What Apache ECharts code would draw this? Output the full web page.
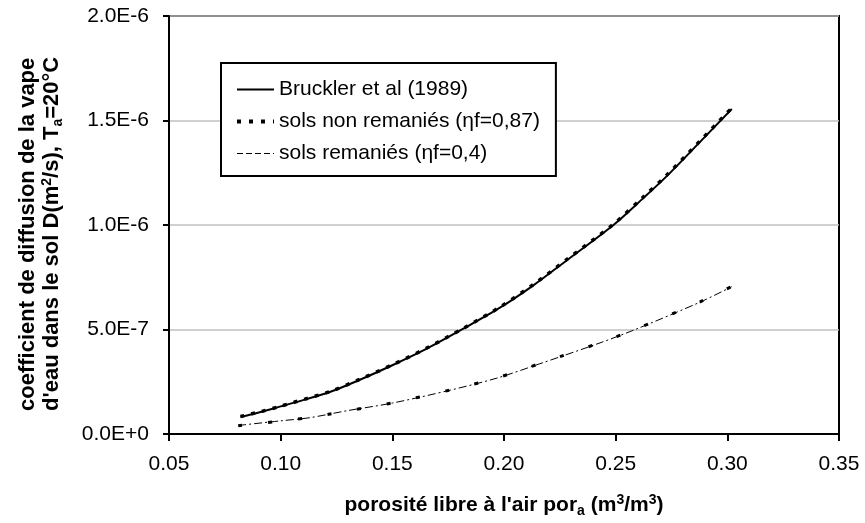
<!DOCTYPE html>
<html>
<head>
<meta charset="utf-8">
<script src="https://cdn.jsdelivr.net/npm/echarts@6/dist/echarts.min.js"></script>
<style>
  html, body { margin: 0; padding: 0; background: #fff; }
  #chart { width: 865px; height: 523px; }
</style>
</head>
<body>
<div id="chart"></div>
<script>
// porosité libre à l'air (m3/m3) et coefficient de diffusion D (m2/s)
var xBruckler = [0.082, 0.091, 0.100, 0.106, 0.122, 0.136, 0.150, 0.165, 0.182, 0.198, 0.213, 0.228, 0.249, 0.262, 0.273, 0.288, 0.302]
var yBruckler = [8.1e-8, 1.05e-7, 1.32e-7, 1.50e-7, 2.01e-7, 2.62e-7, 3.29e-7, 4.06e-7, 5.05e-7, 6.03e-7, 7.10e-7, 8.30e-7, 1.00e-6, 1.125e-6, 1.235e-6, 1.40e-6, 1.555e-6]

var xNonRemanies = [0.082, 0.091, 0.100, 0.106, 0.122, 0.136, 0.150, 0.165, 0.182, 0.198, 0.213, 0.228, 0.249, 0.262, 0.273, 0.288, 0.302]
var yNonRemanies = [8.4e-8, 1.07e-7, 1.33e-7, 1.52e-7, 2.03e-7, 2.64e-7, 3.31e-7, 4.09e-7, 5.07e-7, 6.06e-7, 7.14e-7, 8.34e-7, 1.004e-6, 1.13e-6, 1.24e-6, 1.405e-6, 1.56e-6]

var xRemanies = [0.081, 0.100, 0.113, 0.130, 0.150, 0.176, 0.197, 0.216, 0.243, 0.259, 0.288, 0.302]
var yRemanies = [4.1e-8, 6.3e-8, 7.8e-8, 1.12e-7, 1.48e-7, 2.10e-7, 2.68e-7, 3.36e-7, 4.36e-7, 5.01e-7, 6.32e-7, 7.05e-7]

var xRemanies2 = [0.081, 0.100, 0.113, 0.130, 0.150, 0.176, 0.197, 0.216, 0.243, 0.259, 0.288, 0.302]
var yRemanies2 = [4.0e-8, 6.2e-8, 7.9e-8, 1.11e-7, 1.49e-7, 2.11e-7, 2.69e-7, 3.37e-7, 4.37e-7, 5.02e-7, 6.33e-7, 7.06e-7]

var xTicks = { min: 0.05, max: 0.35, step: 0.05 }
var yTicks = { min: 0, max: 2e-6, step: 5e-7 }

var seriesNames = ['Bruckler et al (1989)', 'sols non remaniés (ηf=0,87)', 'sols remaniés (ηf=0,4)', 'sols remaniés bis']

function pairs (xs, ys) {
  return xs.map(function (x, i) { return [x, ys[i]] })
}

var FONT = '"Liberation Sans", Arial, sans-serif'

var chart = echarts.init(document.getElementById('chart'), null, { renderer: 'canvas' })

var option = {
  backgroundColor: '#fff',
  animation: false,
  grid: {
    left: 169,
    right: 26,
    top: 16,
    bottom: 89,
    show: true,
    borderColor: '#000',
    borderWidth: 2,
    backgroundColor: '#fff'
  },
  legend: {
    data: [
      { name: seriesNames[0], lineStyle: { width: 2 } },
      { name: seriesNames[1], lineStyle: { width: 4, type: [4, 8] } },
      { name: seriesNames[2], lineStyle: { width: 1, type: [6, 3] } }
    ],
    orient: 'vertical',
    left: 221,
    top: 63,
    itemWidth: 37,
    itemHeight: 14,
    itemGap: 11,
    padding: [16, 16, 12, 14],
    borderColor: '#000',
    borderWidth: 2,
    backgroundColor: '#fff',
    itemStyle: { opacity: 0 },
    textStyle: { fontFamily: FONT, fontSize: 21, color: '#000' }
  },
  xAxis: {
    type: 'value',
    min: xTicks.min,
    max: xTicks.max,
    interval: xTicks.step,
    name: '{b|porosité libre à l\'air por}{sub|a}{b| (m}{sup|3}{b|/m}{sup|3}{b|)}',
    nameLocation: 'middle',
    nameGap: 58,
    nameTextStyle: {
      rich: {
        b: { fontFamily: FONT, fontSize: 21, fontWeight: 'bold', color: '#000' },
        sub: { fontFamily: FONT, fontSize: 14, fontWeight: 'bold', color: '#000', padding: [12, 0, 0, 0] },
        sup: { fontFamily: FONT, fontSize: 14, fontWeight: 'bold', color: '#000', padding: [0, 0, 10, 0] }
      }
    },
    axisLine: { lineStyle: { color: '#000', width: 2 } },
    axisTick: { inside: false, length: 7, lineStyle: { color: '#000', width: 2 } },
    axisLabel: {
      margin: 20,
      fontFamily: FONT,
      fontSize: 21,
      color: '#000',
      formatter: function (v) { return v.toFixed(2) }
    },
    splitLine: { show: false }
  },
  yAxis: {
    type: 'value',
    min: yTicks.min,
    max: yTicks.max,
    interval: yTicks.step,
    axisLine: { show: true, lineStyle: { color: '#000', width: 2 } },
    axisTick: { show: true, inside: false, length: 6, lineStyle: { color: '#000', width: 2 } },
    axisLabel: {
      margin: 20,
      fontFamily: FONT,
      fontSize: 21,
      color: '#000',
      formatter: function (v) { return v.toExponential(1).toUpperCase() }
    },
    splitLine: { show: true, lineStyle: { color: '#c0c0c0', width: 1.5 } }
  },
  graphic: [
    {
      type: 'text',
      x: 28,
      y: 411,
      rotation: Math.PI / 2,
      style: {
        text: 'coefficient de diffusion de la vapeur',
        width: 364,
        overflow: 'truncate',
        ellipsis: '',
        font: 'bold 22px ' + FONT,
        fill: '#000',
        align: 'left',
        verticalAlign: 'middle'
      }
    },
    {
      type: 'text',
      x: 52,
      y: 411,
      rotation: Math.PI / 2,
      style: {
        text: '{b|d\'eau dans le sol D(m}{sup|2}{b|/s), T}{sub|a}{b|=20°C}',
        align: 'left',
        verticalAlign: 'middle',
        rich: {
          b: { fontFamily: FONT, fontSize: 22, fontWeight: 'bold', fill: '#000' },
          sub: { fontFamily: FONT, fontSize: 14, fontWeight: 'bold', fill: '#000', padding: [12, 0, 0, 0] },
          sup: { fontFamily: FONT, fontSize: 14, fontWeight: 'bold', fill: '#000', padding: [0, 0, 10, 0] }
        }
      }
    }
  ],
  series: [
    {
      name: seriesNames[3],
      type: 'line',
      data: pairs(xRemanies2, yRemanies2),
      smooth: 0.3,
      symbol: 'none',
      itemStyle: { color: '#000' },
      lineStyle: { color: '#000', width: 3, type: [4, 26] },
      z: 3
    },
    {
      name: seriesNames[2],
      type: 'line',
      data: pairs(xRemanies, yRemanies),
      smooth: 0.3,
      symbol: 'none',
      itemStyle: { color: '#000' },
      lineStyle: { color: '#000', width: 1, type: [8, 3, 2, 3] },
      z: 2
    },
    {
      name: seriesNames[0],
      type: 'line',
      data: pairs(xBruckler, yBruckler),
      smooth: 0.3,
      symbol: 'none',
      itemStyle: { color: '#000' },
      lineStyle: { color: '#000', width: 2, type: 'solid' },
      z: 2
    },
    {
      name: seriesNames[1],
      type: 'line',
      data: pairs(xNonRemanies, yNonRemanies),
      smooth: 0.3,
      symbol: 'none',
      itemStyle: { color: '#000' },
      lineStyle: { color: '#000', width: 3.5, type: [4, 7] },
      z: 3
    }
  ]
}

chart.setOption(option)
</script>
</body>
</html>
